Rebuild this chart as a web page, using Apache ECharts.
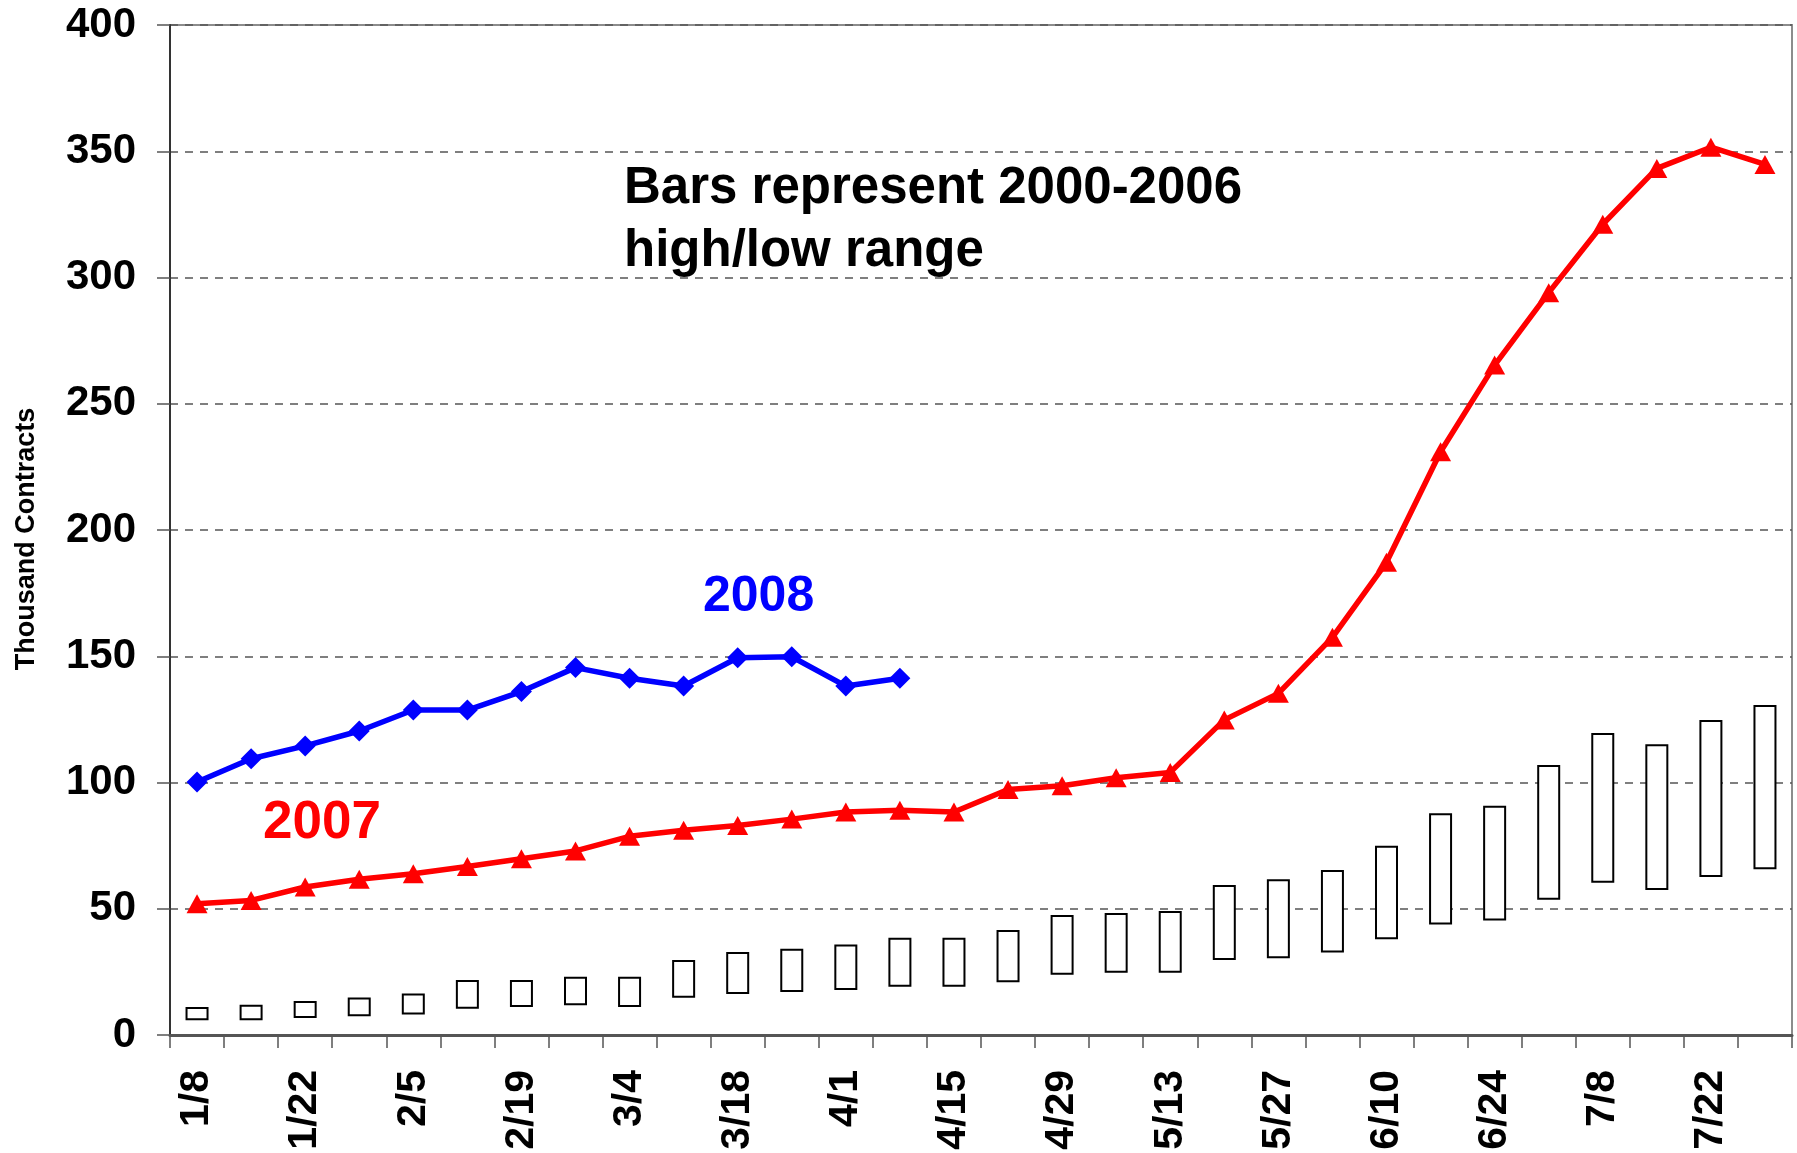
<!DOCTYPE html>
<html>
<head>
<meta charset="utf-8">
<script src="https://cdn.jsdelivr.net/npm/echarts@6/dist/echarts.min.js"></script>
<style>
html,body{margin:0;padding:0;background:#fff;}
#chart{width:1797px;height:1153px;}
</style>
</head>
<body>
<div id="chart"></div>
<script>
// ---- data ----
var weeks = ['1/8','1/15','1/22','1/29','2/5','2/12','2/19','2/26','3/4','3/11','3/18','3/25','4/1','4/8','4/15','4/22','4/29','5/6','5/13','5/20','5/27','6/3','6/10','6/17','6/24','7/1','7/8','7/15','7/22','7/29'];
var yTicks = [0,50,100,150,200,250,300,350,400];
var values2007 = [52.0,53.3,58.6,61.7,63.9,66.7,69.8,72.9,78.7,81.1,83.0,85.5,88.3,89.0,88.3,97.2,98.7,101.9,104.0,124.8,135.3,157.5,187.2,231.0,265.3,294.0,321.1,343.2,351.6,344.8];
var values2008 = [100.2,109.4,114.5,120.4,128.7,128.7,136.0,145.5,141.3,138.2,149.4,149.8,138.2,141.3];
var rangeLow  = [5.8,5.8,6.7,7.4,8.1,10.4,11.1,11.8,11.1,14.8,16.2,17.0,17.8,19.1,19.1,20.9,23.9,24.7,24.7,29.7,30.4,32.7,37.9,43.8,45.3,53.6,60.3,57.4,62.6,65.6];
var rangeHigh = [11.1,12.0,13.5,14.9,16.4,21.8,21.8,23.1,23.1,29.7,32.9,34.2,35.8,38.5,38.5,41.6,47.5,48.3,49.1,59.4,61.7,65.3,75.0,87.8,90.8,106.9,119.6,115.1,124.8,130.7];
var yTitle = 'Thousand Contracts';
var noteText = 'Bars represent 2000-2006\nhigh/low range';
var label2007 = '2007';
var label2008 = '2008';

var rangeSpan = rangeHigh.map(function(h, i){ return +(h - rangeLow[i]).toFixed(2); });
var FONT = '"Liberation Sans", Arial, sans-serif';

var chart = echarts.init(document.getElementById('chart'), null, {renderer: 'canvas'});
chart.setOption({
  animation: false,
  backgroundColor: '#ffffff',
  grid: {
    left: 170, right: 5, top: 25, bottom: 118,
    show: true, borderColor: '#8c8c8c', borderWidth: 2, backgroundColor: 'transparent'
  },
  xAxis: {
    type: 'category',
    data: weeks,
    boundaryGap: true,
    axisLine: {show: true, lineStyle: {color: '#555555', width: 3}},
    axisTick: {show: true, interval: 0, length: 13, lineStyle: {color: '#555555', width: 1.5}},
    axisLabel: {
      interval: 1, rotate: 90, margin: 35,
      fontFamily: FONT, fontWeight: 'bold', fontSize: 41, color: '#000'
    },
    splitLine: {show: false}
  },
  yAxis: {
    type: 'value',
    min: yTicks[0], max: yTicks[yTicks.length - 1], interval: 50,
    name: yTitle,
    nameLocation: 'middle',
    nameRotate: 90,
    nameGap: 130,
    nameTextStyle: {fontFamily: FONT, fontWeight: 'bold', fontSize: 27, color: '#000', padding: [0, 18, 0, 0]},
    axisLine: {show: true, lineStyle: {color: '#333333', width: 2}},
    axisTick: {show: true, length: 13, lineStyle: {color: '#555555', width: 1.5}},
    axisLabel: {margin: 34, fontFamily: FONT, fontWeight: 'bold', fontSize: 42, color: '#000'},
    splitLine: {show: true, lineStyle: {color: '#555555', width: 1.5, type: [8, 7]}}
  },
  series: [
    {
      name: 'low', type: 'bar', stack: 'range', data: rangeLow, barWidth: 23,
      itemStyle: {color: 'transparent'}, silent: true
    },
    {
      name: '2000-2006 range', type: 'bar', stack: 'range', data: rangeSpan, barWidth: 23,
      itemStyle: {color: '#ffffff', borderColor: '#000000', borderWidth: 2}
    },
    {
      name: '2008', type: 'line', data: values2008, z: 5,
      symbol: 'diamond', symbolSize: [21, 21],
      lineStyle: {color: '#0000ff', width: 5.5},
      itemStyle: {color: '#0000ff'}
    },
    {
      name: '2007', type: 'line', data: values2007, z: 6,
      symbol: 'triangle', symbolSize: [21, 19],
      lineStyle: {color: '#ff0000', width: 5.5},
      itemStyle: {color: '#ff0000'}
    }
  ],
  graphic: [
    {
      type: 'text', left: 624, top: 157, z: 10,
      style: {text: noteText, fontFamily: FONT, fontWeight: 'bold', fontSize: 51, lineHeight: 63, fill: '#000'}
    },
    {
      type: 'text', left: 703, top: 572, z: 10,
      style: {text: label2008, fontFamily: FONT, fontWeight: 'bold', fontSize: 50, lineHeight: 50, fill: '#0000ff'}
    },
    {
      type: 'text', left: 263, top: 797, z: 10,
      style: {text: label2007, fontFamily: FONT, fontWeight: 'bold', fontSize: 53, lineHeight: 53, fill: '#ff0000'}
    }
  ]
});
</script>
</body>
</html>
